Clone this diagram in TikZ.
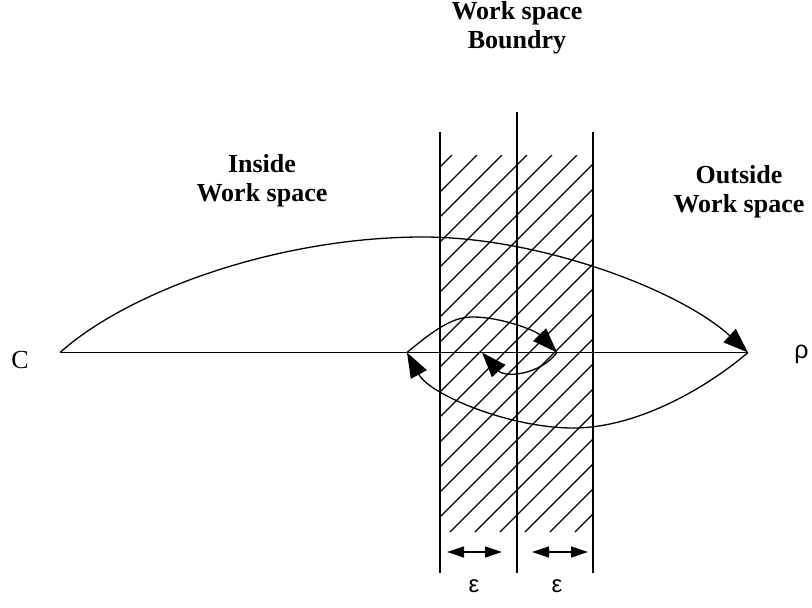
\documentclass[tikz,border=0pt]{standalone}
\usepackage{fontspec}
\setmainfont{Liberation Serif}
\newfontfamily\symfont{Liberation Sans}
\usetikzlibrary{arrows.meta}
\begin{document}
\begin{tikzpicture}[x=1pt,y=-1pt,
  ln/.style={line width=1.3pt},
  bigarrow/.style={ln,-{Triangle[length=25pt,width=18pt]}},
  epsarrow/.style={line width=1.2pt,{Triangle[length=17pt,width=11pt]}-{Triangle[length=17pt,width=11pt]}},
  lbl/.style={font=\bfseries\fontsize{26}{29}\selectfont,align=center,inner sep=0pt},
  sym/.style={font=\symfont\fontsize{24}{28}\selectfont,inner sep=0pt,anchor=base}]
\useasboundingbox (0,0) rectangle (812,608);
% hatching
\begin{scope}
\clip (440,155) rectangle (593,532);
\foreach \c in {582,607,...,1132} \draw[line width=1.2pt] (\c-532,532) -- (\c-155,155);
\end{scope}
% boundary lines
\coordinate (A1) at (440,132); \coordinate (A2) at (440,573);
\coordinate (B1) at (517,112); \coordinate (B2) at (517,573);
\coordinate (D1) at (593,132); \coordinate (D2) at (593,573);
\draw[ln] (A1) -- (A2);
\draw[ln] (B1) -- (B2);
\draw[ln] (D1) -- (D2);
% labels
\node[lbl] (wsb) at (517,28) {Work space\\Boundry};
\node[lbl] (inws) at (262,181) {Inside\\Work space};
\node[lbl] (outws) at (739,192) {Outside\\Work space};
\node[inner sep=0pt,anchor=base,font=\fontsize{26}{30}\selectfont] (C) at (20,368) {C};
\node[sym,font=\symfont\fontsize{25}{30}\selectfont] (rho) at (801.5,358) {ρ};
% axis
\coordinate (O) at (60,352.5);
\coordinate (R) at (748,352.5);
\coordinate (P) at (407,352.5);
\coordinate (Q) at (557,352.5);
\coordinate (T) at (482,352.5);
\draw[ln] (O) -- (R);
% big upper arc
\draw[bigarrow] (O) .. controls (130,290) and (280,237) .. (423,237)
                .. controls (540,237) and (680,290) .. (R);
% big lower arc
\draw[bigarrow] (R) .. controls (710,385) and (640,428) .. (573,428)
                .. controls (510,428) and (430,395) .. (P);
% inner upper arc
\draw[bigarrow] (P) .. controls (440,325) and (455,317) .. (473,317)
                .. controls (500,317) and (535,330) .. (Q);
% inner lower arc
\draw[bigarrow] (Q) .. controls (540,375) and (505,378) .. (T);
% epsilon arrows
\coordinate (e1a) at (447,552); \coordinate (e1b) at (502,552);
\coordinate (e2a) at (532,552); \coordinate (e2b) at (588,552);
\draw[epsarrow] (e1a) -- (e1b);
\draw[epsarrow] (e2a) -- (e2b);
\node[sym] (eps1) at (474,592) {ε};
\node[sym] (eps2) at (557,592) {ε};
\end{tikzpicture}
\end{document}
